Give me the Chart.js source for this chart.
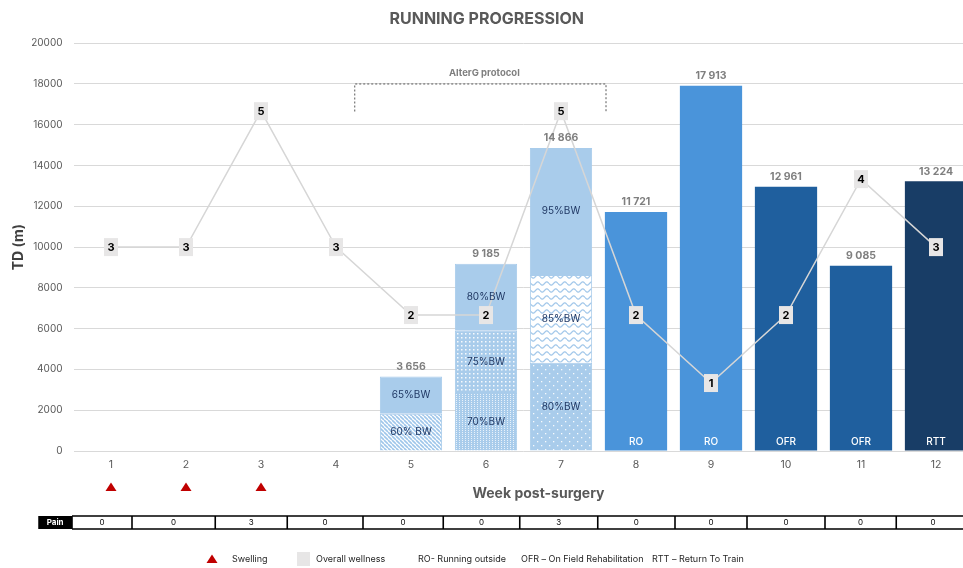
<!DOCTYPE html>
<html>
<head>
<meta charset="utf-8">
<script src="https://cdn.jsdelivr.net/npm/chart.js@4.4.0/dist/chart.umd.min.js"></script>
<style>
  html, body { margin: 0; padding: 0; background: #fff; overflow: hidden; }
  #contenedor { width: 975px; height: 568px; }
</style>
</head>
<body>
<div id="contenedor"><canvas id="grafico" width="975" height="568"></canvas></div>
<script>
// Semanas post-cirugia y distancia total (m) por tramo de cada barra
const semanas = ["1", "2", "3", "4", "5", "6", "7", "8", "9", "10", "11", "12"];
const tramoBase = [null, null, null, null, 1830, 2850, 4330, 11721, 17913, 12961, 9085, 13224];
const tramoMedio = [null, null, null, null, 1826, 3050, 4300, null, null, null, null, null];
const tramoAlto = [null, null, null, null, null, 3285, 6236, null, null, null, null, null];

const etiquetasBase = ["", "", "", "", "60% BW", "70%BW", "80%BW", "", "", "", "", ""];
const etiquetasMedio = ["", "", "", "", "65%BW", "75%BW", "85%BW", "", "", "", "", ""];
const etiquetasAlto = ["", "", "", "", "", "80%BW", "95%BW", "", "", "", "", ""];
const fases = ["", "", "", "", "", "", "", "RO", "RO", "OFR", "OFR", "RTT"];

const bienestar = [3, 3, 5, 3, 2, 2, 5, 2, 1, 2, 4, 3];
const hinchazon = [1, 1, 1, 0, 0, 0, 0, 0, 0, 0, 0, 0];
const dolor = [0, 0, 3, 0, 0, 0, 3, 0, 0, 0, 0, 0];

// bordes de las celdas de la fila "Pain", en unidades de semana (indice)
const bordesDolor = [-0.52, 0.28, 1.39, 2.35, 3.36, 4.43, 5.45, 6.49, 7.52, 8.48, 9.52, 10.47, 11.45];

const FUENTE = "Inter, 'Noto Sans', sans-serif";
const CELESTE = "#A9CCEB";
const AZUL_RO = "#4A94DA";
const AZUL_OFR = "#1F5F9E";
const AZUL_RTT = "#183D66";

const ctxBase = document.getElementById("grafico").getContext("2d");

function crearPatron(ancho, alto, dibujar) {
  const c = document.createElement("canvas");
  c.width = ancho;
  c.height = alto;
  dibujar(c.getContext("2d"));
  return ctxBase.createPattern(c, "repeat");
}

const rayado = crearPatron(4, 4, (g) => {
  g.fillStyle = "#fff";
  g.fillRect(0, 0, 4, 4);
  g.strokeStyle = "#9FC6EA";
  g.lineWidth = 1.6;
  for (const o of [-4, 0, 4]) {
    g.beginPath();
    g.moveTo(o, 0);
    g.lineTo(o + 4, 4);
    g.stroke();
  }
});

const puntosFinos = crearPatron(3, 2, (g) => {
  g.fillStyle = CELESTE;
  g.fillRect(0, 0, 3, 2);
  g.fillStyle = "rgba(255,255,255,0.75)";
  g.fillRect(0, 0, 1, 1);
});

const puntosMedios = crearPatron(4, 4, (g) => {
  g.fillStyle = CELESTE;
  g.fillRect(0, 0, 4, 4);
  g.fillStyle = "rgba(255,255,255,0.9)";
  g.fillRect(1, 1, 1.5, 1.5);
});

const puntosRalos = crearPatron(8, 8, (g) => {
  g.fillStyle = CELESTE;
  g.fillRect(0, 0, 8, 8);
  g.fillStyle = "rgba(255,255,255,0.9)";
  g.fillRect(1, 1, 1.3, 1.3);
  g.fillRect(5, 5, 1.3, 1.3);
});

const ondas = crearPatron(9, 7, (g) => {
  g.fillStyle = "#fff";
  g.fillRect(0, 0, 9, 7);
  g.strokeStyle = "#A3C8EA";
  g.lineWidth = 1.2;
  g.beginPath();
  for (let x = 0; x <= 9; x += 0.5) {
    const y = 3.5 + 1.6 * Math.sin((2 * Math.PI * x) / 9);
    if (x === 0) g.moveTo(x, y);
    else g.lineTo(x, y);
  }
  g.stroke();
});

const coloresBase = [null, null, null, null, rayado, puntosFinos, puntosRalos, AZUL_RO, AZUL_RO, AZUL_OFR, AZUL_OFR, AZUL_RTT];
const coloresMedio = [null, null, null, null, CELESTE, puntosMedios, ondas, null, null, null, null, null];
const coloresAlto = [null, null, null, null, null, CELESTE, CELESTE, null, null, null, null, null];

function conEspacios(n) {
  return String(n).replace(/\B(?=(\d{3})+(?!\d))/g, " ");
}

function totalSemana(i) {
  return (tramoBase[i] || 0) + (tramoMedio[i] || 0) + (tramoAlto[i] || 0);
}

function texto(ctx, t, x, y, font, color, align) {
  ctx.font = font;
  ctx.fillStyle = color;
  ctx.textAlign = align || "center";
  ctx.textBaseline = "middle";
  ctx.fillText(t, x, y);
}

function triangulo(ctx, x, y) {
  ctx.fillStyle = "#C00000";
  ctx.beginPath();
  ctx.moveTo(x, y - 4.5);
  ctx.lineTo(x + 5.5, y + 4);
  ctx.lineTo(x - 5.5, y + 4);
  ctx.closePath();
  ctx.fill();
}

const anotaciones = {
  id: "anotaciones",
  afterDatasetsDraw(chart) {
    const ctx = chart.ctx;
    const x = chart.scales.x;
    const y = chart.scales.y;
    ctx.save();

    // etiquetas dentro de cada tramo
    const capas = [etiquetasBase, etiquetasMedio, etiquetasAlto];
    capas.forEach((etq, d) => {
      chart.getDatasetMeta(d).data.forEach((el, i) => {
        if (!etq[i]) return;
        texto(ctx, etq[i], el.x, (el.y + el.base) / 2, "10px " + FUENTE, "#203864");
      });
    });

    // fase al pie de las barras
    chart.getDatasetMeta(0).data.forEach((el, i) => {
      if (!fases[i]) return;
      texto(ctx, fases[i], el.x, el.base - 9, "500 10px " + FUENTE, "#fff");
    });

    // totales sobre cada barra
    semanas.forEach((s, i) => {
      const tot = totalSemana(i);
      if (!tot) return;
      texto(ctx, conEspacios(tot), x.getPixelForValue(i), y.getPixelForValue(tot) - 10,
        "bold 10.5px " + FUENTE, "#7F7F7F");
    });

    // cajas del bienestar general
    chart.getDatasetMeta(3).data.forEach((p, i) => {
      ctx.fillStyle = "#E7E6E6";
      ctx.fillRect(p.x - 7, p.y - 9, 14, 18);
      texto(ctx, String(bienestar[i]), p.x, p.y + 0.5, "bold 11px " + FUENTE, "#000");
    });

    // llave del protocolo AlterG
    const xa = x.getPixelForValue(3.25);
    const xb = x.getPixelForValue(6.6);
    const ya = y.getPixelForValue(18000);
    const yb = y.getPixelForValue(16650);
    ctx.strokeStyle = "#595959";
    ctx.lineWidth = 1;
    ctx.setLineDash([2, 2]);
    ctx.beginPath();
    ctx.moveTo(xa, yb);
    ctx.lineTo(xa, ya);
    ctx.lineTo(xb, ya);
    ctx.lineTo(xb, yb);
    ctx.stroke();
    ctx.setLineDash([]);
    texto(ctx, "AlterG protocol", (xa + xb) / 2 + 4, y.getPixelForValue(18550),
      "bold 9.5px " + FUENTE, "#7F7F7F");
    ctx.restore();
  },
  afterDraw(chart) {
    const ctx = chart.ctx;
    const x = chart.scales.x;
    ctx.save();

    // hinchazon
    hinchazon.forEach((v, i) => {
      if (v) triangulo(ctx, x.getPixelForValue(i), 487);
    });

    texto(ctx, "Week post-surgery", x.getPixelForValue(5.7), 494, "bold 14px " + FUENTE, "#595959");

    // fila de dolor
    const yTop = 516, yBot = 529;
    const xPain0 = x.getPixelForValue(-0.97);
    const xPain1 = x.getPixelForValue(bordesDolor[0]);
    ctx.fillStyle = "#000";
    ctx.fillRect(xPain0, yTop, xPain1 - xPain0, yBot - yTop);
    texto(ctx, "Pain", (xPain0 + xPain1) / 2, (yTop + yBot) / 2, "bold 8px " + FUENTE, "#fff");
    ctx.strokeStyle = "#000";
    ctx.lineWidth = 1.6;
    ctx.beginPath();
    ctx.moveTo(xPain1, yTop);
    ctx.lineTo(x.getPixelForValue(bordesDolor[bordesDolor.length - 1]), yTop);
    ctx.moveTo(xPain1, yBot);
    ctx.lineTo(x.getPixelForValue(bordesDolor[bordesDolor.length - 1]), yBot);
    bordesDolor.forEach((b) => {
      const px = x.getPixelForValue(b);
      ctx.moveTo(px, yTop);
      ctx.lineTo(px, yBot);
    });
    ctx.stroke();
    dolor.forEach((v, i) => {
      const c = (x.getPixelForValue(bordesDolor[i]) + x.getPixelForValue(bordesDolor[i + 1])) / 2;
      texto(ctx, String(v), c, (yTop + yBot) / 2 + 0.5, "8px " + FUENTE, "#000");
    });

    // leyenda
    const yLey = 559;
    const fLey = "9px " + FUENTE;
    triangulo(ctx, 212, yLey);
    texto(ctx, "Swelling", 232, yLey, fLey, "#262626", "left");
    ctx.fillStyle = "#E7E6E6";
    ctx.fillRect(297, yLey - 7, 13, 14);
    texto(ctx, "Overall wellness", 316, yLey, fLey, "#262626", "left");
    texto(ctx, "RO- Running outside", 418, yLey, fLey, "#262626", "left");
    texto(ctx, "OFR \u2013 On Field Rehabilitation", 521, yLey, fLey, "#262626", "left");
    texto(ctx, "RTT \u2013 Return To Train", 652, yLey, fLey, "#262626", "left");
    ctx.restore();
  },
};

new Chart(ctxBase, {
  type: "bar",
  data: {
    labels: semanas,
    datasets: [
      { label: "base", data: tramoBase, backgroundColor: coloresBase, borderColor: CELESTE,
        borderWidth: [0, 0, 0, 0, 1, 1, 1, 0, 0, 0, 0, 0], order: 1 },
      { label: "medio", data: tramoMedio, backgroundColor: coloresMedio, borderColor: CELESTE,
        borderWidth: 1, order: 1 },
      { label: "alto", data: tramoAlto, backgroundColor: coloresAlto, borderColor: CELESTE,
        borderWidth: 1, order: 1 },
      { type: "line", label: "Overall wellness", data: bienestar, yAxisID: "y2",
        borderColor: "#D6D6D6", borderWidth: 1.5, pointRadius: 0, tension: 0, order: 0 },
    ],
  },
  options: {
    responsive: false,
    animation: false,
    events: [],
    layout: { padding: { left: 0, right: 1.5, top: 0, bottom: 0 } },
    datasets: { bar: { categoryPercentage: 1, barPercentage: 0.83 } },
    plugins: {
      legend: { display: false },
      tooltip: { enabled: false },
      title: {
        display: true,
        text: "RUNNING PROGRESSION",
        color: "#595959",
        font: { family: FUENTE, size: 16, weight: "bold" },
        padding: { top: 10, bottom: 14 },
      },
    },
    scales: {
      x: {
        stacked: true,
        grid: { display: false, drawTicks: false },
        border: { display: false },
        ticks: { color: "#595959", font: { family: FUENTE, size: 10.5 }, padding: 8 },
        afterFit(scale) { scale.height = 117; },
      },
      y: {
        stacked: true,
        min: 0,
        max: 20000,
        ticks: {
          stepSize: 2000,
          color: "#595959",
          font: { family: FUENTE, size: 10 },
          padding: 11,
          callback: (v) => String(v),
        },
        grid: { color: "#D9D9D9", drawTicks: false },
        border: { display: false },
        title: {
          display: true,
          text: "TD (m)",
          color: "#404040",
          font: { family: FUENTE, size: 14, weight: "bold" },
          padding: { top: 10, bottom: 0 },
        },
        afterFit(scale) { scale.width = 73.5; },
      },
      y2: { display: false, min: 0, max: 6 },
    },
  },
  plugins: [anotaciones],
});
</script>
</body>
</html>
